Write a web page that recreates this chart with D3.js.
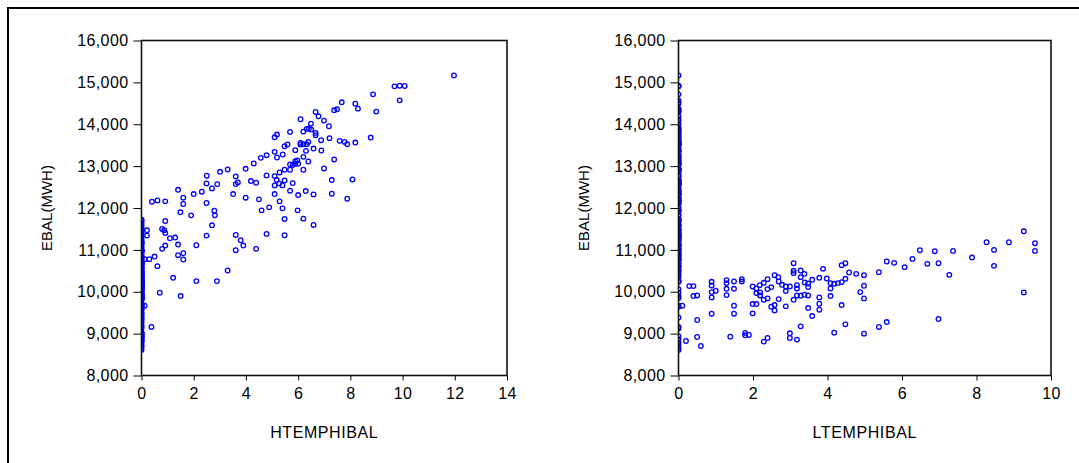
<!DOCTYPE html>
<html>
<head>
<meta charset="utf-8">
<script src="https://cdn.jsdelivr.net/npm/d3@7"></script>
<style>
  body { margin: 0; background: #fff; }
  text { font-family: "Liberation Sans", Arial, sans-serif; }
</style>
</head>
<body>
<svg id="chart" width="1079" height="463"></svg>
<script>
// observations with HTEMPHIBAL > 0  [htemp, ebal]
var htempObs = [
  [11.97,15167],[9.69,14905],[9.89,14921],[10.08,14913],[9.89,14571],[8.87,14714],[8.99,14302],[8.19,14492],[8.29,14373],[7.67,14524],
  [7.38,14333],[7.49,14357],[7.18,13952],[6.99,14087],[6.67,14294],[6.78,14190],[6.49,14016],[6.09,14119],[6.41,13897],[6.50,13873],
  [6.33,13889],[6.20,13825],[6.67,13794],[6.67,13738],[6.88,13619],[7.20,13667],[7.59,13603],[7.78,13579],[7.88,13524],[8.19,13563],
  [8.78,13682],[5.69,13817],[5.10,13690],[5.19,13754],[5.48,13476],[5.59,13516],[6.09,13555],[6.09,13516],[6.20,13524],[6.33,13524],
  [6.39,13579],[6.59,13420],[6.89,13373],[6.30,13365],[5.89,13381],[6.20,13222],[6.39,13111],[7.38,13159],[6.99,12944],[6.20,12913],
  [5.10,13341],[5.41,13278],[5.19,13206],[4.79,13262],[4.57,13198],[4.30,13063],[3.99,12936],[3.30,12921],[3.01,12865],[2.50,12770],
  [3.61,12754],[2.49,12587],[2.90,12571],[2.70,12468],[2.31,12389],[2.00,12333],[1.40,12435],[1.60,12246],[1.60,12095],[1.49,11897],
  [1.90,11825],[2.49,12119],[2.79,11936],[2.81,11825],[2.70,11587],[2.49,11341],[2.10,11111],[1.40,11127],[1.40,10873],[1.60,10921],
  [1.60,10770],[1.21,10333],[1.50,9897],[2.10,10254],[2.89,10254],[3.30,10508],[0.70,9976],[0.61,10611],[0.38,9159],[0.12,9667],
  [0.30,10778],[0.50,10841],[0.13,10778],[0.79,11024],[0.91,11103],[0.79,11500],[0.87,11468],[0.91,11405],[0.91,11690],[1.09,11278],
  [1.29,11294],[0.21,11468],[0.21,11341],[0.40,12151],[0.61,12182],[0.91,12159],[3.61,12571],[3.69,12611],[3.51,12333],[3.99,12246],
  [4.19,12643],[4.39,12603],[4.50,12206],[4.60,11944],[4.89,12016],[4.79,12778],[5.10,12762],[5.29,12849],[5.48,12913],[5.69,12913],
  [5.69,13040],[5.79,13024],[5.89,13119],[5.97,13135],[6.00,13056],[5.89,13056],[5.18,12667],[5.10,12540],[5.27,12587],[5.40,12540],
  [5.48,12659],[5.79,12595],[5.10,12333],[5.29,12159],[5.40,11992],[5.48,11738],[5.48,11349],[5.69,12413],[6.00,12309],[5.98,11944],
  [6.20,11746],[6.29,12405],[6.59,12325],[6.59,11595],[7.29,12667],[7.29,12341],[8.08,12682],[7.88,12222],[4.79,11381],[3.61,11357],
  [3.80,11230],[3.90,11103],[3.61,10992],[4.39,11024]
];

// observations with LTEMPHIBAL > 0  [ltemp, ebal]
var ltempObs = [
  [9.27,11444],[9.57,11159],[9.57,10976],[8.87,11182],[8.27,11182],[8.47,11000],[8.47,10619],[9.27,9984],[7.88,10817],[7.37,10976],
  [6.88,10968],[6.98,10682],[6.68,10666],[6.48,10992],[6.28,10785],[6.07,10587],[5.79,10690],[5.59,10722],[5.38,10468],[7.27,10404],
  [6.98,9349],[5.59,9277],[5.38,9159],[4.98,10397],[4.98,10143],[4.98,9841],[4.88,9992],[4.98,9000],[4.77,10428],[4.58,10460],
  [4.48,10682],[4.38,10635],[4.48,10309],[4.38,10230],[4.28,10206],[4.18,10190],[4.08,10206],[4.08,10079],[4.08,9897],[4.38,9682],
  [4.48,9222],[4.18,9023],[3.98,10317],[3.88,10547],[3.78,10333],[3.78,9865],[3.78,9714],[3.78,9571],[3.59,10285],[3.59,9420],
  [3.48,10198],[3.48,10111],[3.39,10222],[3.48,9912],[3.48,9611],[3.38,10428],[3.28,10508],[3.28,10349],[3.09,10682],[3.09,10500],
  [3.09,10444],[3.18,10158],[3.18,10079],[3.18,9912],[3.09,9809],[3.28,9904],[3.38,9928],[3.28,9174],[3.18,8857],[2.99,10127],
  [2.99,9008],[2.99,8896],[2.88,10127],[2.88,10016],[2.88,9651],[2.78,10166],[2.69,10246],[2.68,10349],[2.58,10397],[2.69,9825],
  [2.58,9682],[2.58,9555],[2.49,10111],[2.39,10301],[2.29,10214],[2.39,10063],[2.39,9841],[2.29,9809],[2.49,9642],[2.39,8896],
  [2.29,8809],[2.18,10158],[2.19,9984],[2.19,9912],[2.09,9968],[2.09,10079],[1.99,10127],[1.99,9706],[2.09,9706],[1.99,9484],
  [1.79,9016],[1.79,8960],[1.89,8968],[1.70,10301],[1.70,10246],[1.49,10246],[1.49,10071],[1.49,9666],[1.49,9476],[1.39,8928],
  [1.29,10278],[1.29,10206],[1.29,10071],[1.29,9920],[1.00,10024],[0.89,10238],[0.89,10151],[0.89,9992],[0.89,9865],[0.89,9476],
  [0.50,9912],[0.40,9897],[0.50,9325],[0.50,8920],[0.60,8706],[0.20,8825],[0.29,10135],[0.40,10135],[0.10,9667]
];

// EBAL on days when both temperature variables are zero
var zeroEbal = [8610,8655,8730,8790,8865,8940,9120,9385,9640,9850,10060,10235,10390,10430,10475,10520,10565,
  10605,10650,10690,10735,10780,10825,10870,10910,10955,11005,11050,11090,11135,11180,11225,11270,11315,
  11355,11400,11445,11490,11530,11575,11620,11660,11700,11720];

var yTicks = [8000,9000,10000,11000,12000,13000,14000,15000,16000];
var leftXTicks = [0,2,4,6,8,10,12,14];
var rightXTicks = [0,2,4,6,8,10];

var svg = d3.select("#chart");

// outer border (left and top edges only)
svg.append("path")
    .attr("d", "M8,463V8H1079")
    .attr("fill", "none")
    .attr("stroke", "#000")
    .attr("stroke-width", 2);

var y = d3.scaleLinear().domain([8000, 16000]).range([375.5, 40.5]);

function drawPanel(id, left, right, xMax, xTicks, xTitle, data) {
    var x = d3.scaleLinear().domain([0, xMax]).range([left, right]);
    var g = svg.append("g");

    g.append("clipPath").attr("id", id)
      .append("rect")
        .attr("x", left).attr("y", 40.5)
        .attr("width", right - left).attr("height", 335);

    // points
    g.append("g")
        .attr("clip-path", "url(#" + id + ")")
      .selectAll("circle")
      .data(data)
      .enter()
      .append("circle")
        .attr("cx", function(d) { return x(d[0]); })
        .attr("cy", function(d) { return y(d[1]); })
        .attr("r", 2.3)
        .attr("fill", "none")
        .attr("stroke", "#0000ff")
        .attr("stroke-width", 1.3);

    // frame
    g.append("rect")
        .attr("x", left).attr("y", 40.5)
        .attr("width", right - left).attr("height", 335)
        .attr("fill", "none")
        .attr("stroke", "#111")
        .attr("stroke-width", 1.6);

    var yAxis = g.append("g")
        .attr("transform", "translate(" + left + ",0)")
        .call(d3.axisLeft(y).tickValues(yTicks).tickFormat(d3.format(",")).tickSize(8).tickPadding(5));

    var xAxis = g.append("g")
        .attr("transform", "translate(0,375.5)")
        .call(d3.axisBottom(x).tickValues(xTicks).tickSize(5).tickPadding(7));

    [yAxis, xAxis].forEach(function(a) {
        a.select(".domain").remove();
        a.selectAll("line").attr("stroke", "#000");
        a.selectAll("text").attr("font-size", 16).attr("fill", "#000")
            .attr("letter-spacing", "0.4px")
            .attr("font-family", "'Liberation Sans', Arial, sans-serif");
    });

    g.append("text")
        .attr("transform", "translate(" + (left - 95) + ",208) rotate(-90)")
        .attr("text-anchor", "middle")
        .attr("dy", "0.35em")
        .attr("font-size", 15)
        .text("EBAL(MWH)");

    g.append("text")
        .attr("x", (left + right) / 2)
        .attr("y", 438)
        .attr("text-anchor", "middle")
        .attr("font-size", 16)
        .attr("letter-spacing", "0.6px")
        .text(xTitle);
}

// each panel: its own positive observations, the other variable's days at zero, and days where both are zero
var leftData = htempObs
    .concat(ltempObs.map(function(d) { return [0, d[1]]; }))
    .concat(zeroEbal.map(function(v) { return [0, v]; }));

var rightData = ltempObs
    .concat(htempObs.map(function(d) { return [0, d[1]]; }))
    .concat(zeroEbal.map(function(v) { return [0, v]; }));

drawPanel("clipL", 141.5, 507, 14, leftXTicks, "HTEMPHIBAL", leftData);
drawPanel("clipR", 678.5, 1051, 10, rightXTicks, "LTEMPHIBAL", rightData);
</script>
</body>
</html>
